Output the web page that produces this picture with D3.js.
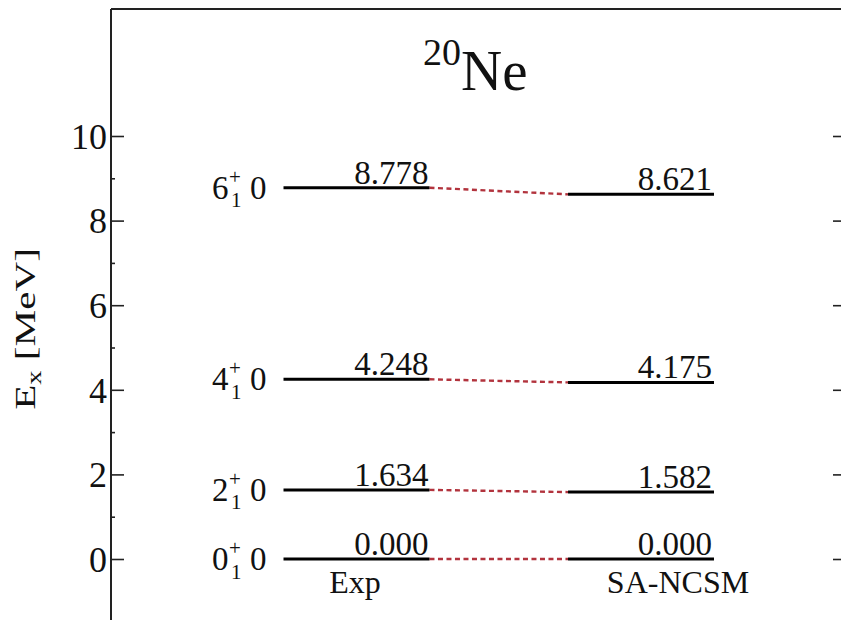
<!DOCTYPE html>
<html>
<head>
<meta charset="utf-8">
<script src="https://cdn.jsdelivr.net/npm/d3@7/dist/d3.min.js"></script>
<style>
  html, body { margin: 0; padding: 0; background: #fff; }
  svg { display: block; }
  text { font-family: "Liberation Serif", "Times New Roman", serif; fill: #111; }
</style>
</head>
<body>
<svg id="chart" width="841" height="620"></svg>
<script>
// Low-lying spectrum of 20Ne: experiment vs SA-NCSM
const spins = ["0", "2", "4", "6"];          // J of each level (J^+_1, T = 0)
const isospins = ["0", "0", "0", "0"];
const expEnergies = [0.000, 1.634, 4.248, 8.778];
const ncsmEnergies = [0.000, 1.582, 4.175, 8.621];
const columns = ["Exp", "SA-NCSM"];
const majorTicks = [0, 2, 4, 6, 8, 10];
const minorTicks = [1, 3, 5, 7, 9];

const svg = d3.select("#chart");
const W = 841, H = 620;

const y = d3.scaleLinear().domain([0, 10]).range([559, 136]);
const x = d3.scaleLinear().domain([0, 1]).range([111, 846]);

// column extents in axis-fraction units
const colX = d3.scaleOrdinal().domain(columns).range([[0.2347, 0.4333], [0.6218, 0.8204]]);

const frameTop = y(13);
const axisColor = "#222";

// frame
svg.append("line").attr("x1", x(0)).attr("x2", x(0)).attr("y1", frameTop).attr("y2", H + 5)
  .attr("stroke", axisColor).attr("stroke-width", 2);
svg.append("line").attr("x1", x(0)).attr("x2", x(1)).attr("y1", frameTop).attr("y2", frameTop)
  .attr("stroke", axisColor).attr("stroke-width", 2);
svg.append("line").attr("x1", x(1)).attr("x2", x(1)).attr("y1", frameTop).attr("y2", H + 5)
  .attr("stroke", axisColor).attr("stroke-width", 2);

// left axis
const leftAxis = svg.append("g").attr("transform", `translate(${x(0)},0)`)
  .call(d3.axisLeft(y).tickValues(majorTicks).tickSize(-13).tickPadding(4).tickFormat(d3.format("d")));
leftAxis.select(".domain").remove();
leftAxis.selectAll(".tick line").attr("stroke", axisColor).attr("stroke-width", 1.6);
leftAxis.selectAll(".tick text").attr("font-size", 36).attr("font-family", "Liberation Serif")
  .attr("fill", "#111").attr("dy", "0.34em");

const leftMinor = svg.append("g").attr("transform", `translate(${x(0)},0)`)
  .call(d3.axisLeft(y).tickValues(minorTicks).tickSize(-4).tickFormat(""));
leftMinor.select(".domain").remove();
leftMinor.selectAll(".tick line").attr("stroke", axisColor).attr("stroke-width", 1.6);

// right axis
const rightAxis = svg.append("g").attr("transform", `translate(${x(1)},0)`)
  .call(d3.axisRight(y).tickValues(majorTicks).tickSize(-13).tickFormat(""));
rightAxis.select(".domain").remove();
rightAxis.selectAll(".tick line").attr("stroke", axisColor).attr("stroke-width", 1.6);

// title
const title = svg.append("text").attr("x", 423).attr("y", 90);
title.append("tspan").attr("font-size", 38).attr("dy", -25).text("20");
title.append("tspan").attr("font-size", 57).attr("dy", 25).text("Ne");

// y label (elongated along its reading direction)
const yl = svg.append("text")
  .attr("transform", `translate(35,329) rotate(-90) scale(1.42,1)`)
  .attr("text-anchor", "middle").attr("font-size", 29);
yl.append("tspan").text("E");
yl.append("tspan").attr("font-size", 20).attr("dy", 6).text("x");
yl.append("tspan").attr("dy", -6).text(" [MeV]");

// levels
const levels = spins.map((j, i) => ({ j, t: isospins[i], exp: expEnergies[i], ncsm: ncsmEnergies[i] }));
const [e0, e1] = colX("Exp"), [n0, n1] = colX("SA-NCSM");

// dashed connectors
svg.append("g").selectAll("line").data(levels).join("line")
  .attr("x1", x(e1)).attr("x2", x(n0))
  .attr("y1", d => y(d.exp)).attr("y2", d => y(d.ncsm))
  .attr("stroke", "#b2333d").attr("stroke-width", 2.4).attr("stroke-dasharray", "5,3.5");

// level bars
const bars = svg.append("g");
bars.selectAll("line.exp").data(levels).join("line").attr("class", "exp")
  .attr("x1", x(e0)).attr("x2", x(e1)).attr("y1", d => y(d.exp)).attr("y2", d => y(d.exp))
  .attr("stroke", "#000").attr("stroke-width", 3);
bars.selectAll("line.ncsm").data(levels).join("line").attr("class", "ncsm")
  .attr("x1", x(n0)).attr("x2", x(n1)).attr("y1", d => y(d.ncsm)).attr("y2", d => y(d.ncsm))
  .attr("stroke", "#000").attr("stroke-width", 3);

// energy values
const fmt = d3.format(".3f");
svg.append("g").selectAll("text").data(levels).join("text")
  .attr("x", x(e1) - 1).attr("y", d => y(d.exp) - 4).attr("text-anchor", "end")
  .attr("font-size", 33).text(d => fmt(d.exp));
svg.append("g").selectAll("text").data(levels).join("text")
  .attr("x", x(n1) - 2).attr("y", d => y(d.ncsm) - 4).attr("text-anchor", "end")
  .attr("font-size", 33).text(d => fmt(d.ncsm));

// J^pi_n T labels
const lab = svg.append("g").selectAll("g").data(levels).join("g")
  .attr("transform", d => `translate(212,${y(d.exp) + 11})`);
lab.append("text").attr("font-size", 33).text(d => d.j);
lab.append("text").attr("x", 17).attr("y", -15).attr("font-size", 21).text("+");
lab.append("text").attr("x", 19).attr("y", 8.5).attr("font-size", 21).text("1");
lab.append("text").attr("x", 38).attr("font-size", 33).text(d => d.t);

// column names
svg.append("g").selectAll("text").data(columns).join("text")
  .attr("x", (d, i) => i === 0 ? 355 : 678).attr("y", 593)
  .attr("text-anchor", "middle").attr("font-size", 32).text(d => d);
</script>
</body>
</html>
